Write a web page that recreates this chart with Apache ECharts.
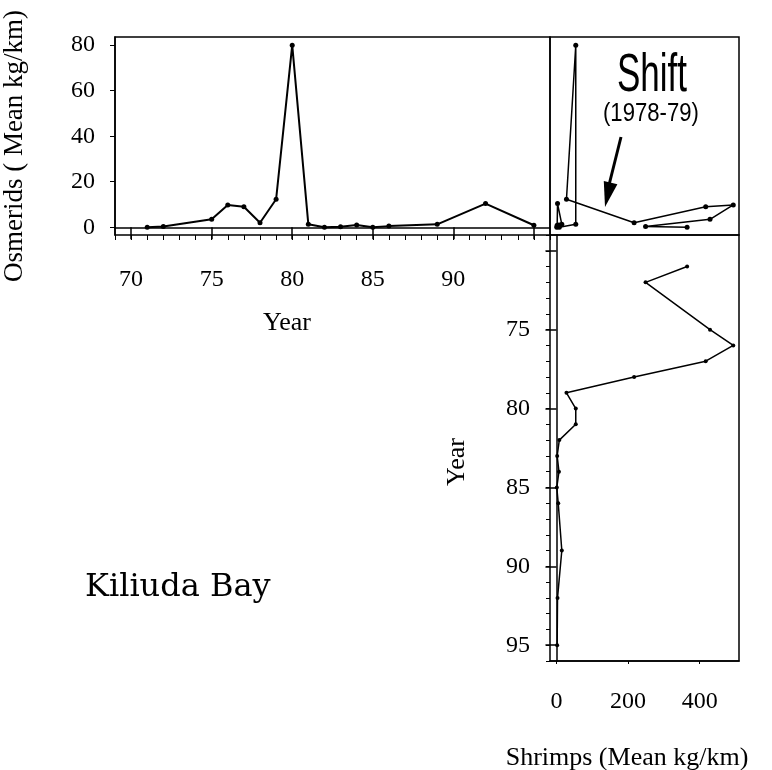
<!DOCTYPE html>
<html>
<head>
<meta charset="utf-8">
<script src="https://cdn.jsdelivr.net/npm/echarts@6/dist/echarts.min.js"></script>
<style>html,body{margin:0;padding:0;background:#fff}#c{width:772px;height:770px}</style>
</head>
<body>
<div id="c"></div>
<script>
// ---- data ----
const years    = [71, 72, 75, 76, 77, 78, 79, 80, 81, 82, 83, 84, 85, 86, 89, 92, 95];
const osmerids = [0, 0.3, 3.5, 9.8, 9, 2, 12.3, 80, 1.3, 0, 0.2, 1, 0, 0.5, 1.3, 10.4, 0.9];
const shrimps  = [365, 249, 429, 494, 417, 217, 28, 54, 54, 8, 2, 7, 1, 5, 15, 3, 2];

const yearLabelsTop   = [70, 75, 80, 85, 90];
const yearMajorTicks  = [70, 75, 80, 85, 90, 95];
const yearLabelsRight = [75, 80, 85, 90, 95];
const osmTicks        = [0, 20, 40, 60, 80];
const shrimpTicks     = [0, 200, 400];

const osmTitle    = 'Osmerids ( Mean kg/km)';
const shrimpTitle = 'Shrimps (Mean kg/km)';
const yearTitle   = 'Year';
const placeLabel  = 'Kiliuda Bay';
const shiftLabel  = 'Shift';
const shiftYears  = '(1978-79)';

// ---- build ----
const SERIF = 'Liberation Serif';
const K = '#000';
const yearsOsm    = years.map((y, i) => [y, osmerids[i]]);
const shrimpOsm   = years.map((y, i) => [shrimps[i], osmerids[i]]);
const shrimpYears = years.map((y, i) => [shrimps[i], y]);

const lbl = {fontFamily: SERIF, fontSize: 24, color: K};
const noSplit = {show: false};
const YEAR_MIN = 69, YEAR_MAX = 96;
const OSM_MIN = -3.4, OSM_MAX = 83.6;
const SH_MIN = -18, SH_MAX = 510;

const chart = echarts.init(document.getElementById('c'), null, {renderer: 'canvas'});
chart.setOption({
  backgroundColor: '#fff',
  animation: false,
  grid: [
    {left: 115, top: 37, width: 435, height: 198, show: true, borderColor: K, borderWidth: 1.5, containLabel: false},
    {left: 550, top: 37, width: 189, height: 198, show: true, borderColor: K, borderWidth: 1.5, containLabel: false},
    {left: 550, top: 235, width: 189, height: 426, show: true, borderColor: K, borderWidth: 1.5, containLabel: false}
  ],
  xAxis: [
    {type: 'value', gridIndex: 0, position: 'bottom', min: YEAR_MIN, max: YEAR_MAX,
      axisLine: {show: true, lineStyle: {color: K, width: 1.5}},
      axisTick: {show: true, customValues: yearMajorTicks, length: 12, lineStyle: {color: K, width: 1.5}},
      axisLabel: {show: true, customValues: yearLabelsTop, margin: 33, ...lbl},
      splitLine: noSplit},
    {type: 'value', gridIndex: 0, position: 'bottom', min: YEAR_MIN, max: YEAR_MAX, interval: 1,
      axisLine: {show: false}, axisTick: {show: true, length: 5, lineStyle: {color: K, width: 1}},
      axisLabel: {show: false}, splitLine: noSplit},
    {type: 'value', gridIndex: 1, min: SH_MIN, max: SH_MAX, position: 'bottom',
      axisLine: {show: false}, axisTick: {show: false}, axisLabel: {show: false}, splitLine: noSplit},
    {type: 'value', gridIndex: 2, min: SH_MIN, max: SH_MAX, position: 'bottom',
      axisLine: {show: true, lineStyle: {color: K, width: 1.5}},
      axisTick: {show: true, customValues: shrimpTicks, length: 3, lineStyle: {color: K}},
      axisLabel: {show: true, customValues: shrimpTicks, margin: 29, ...lbl},
      splitLine: noSplit}
  ],
  yAxis: [
    {type: 'value', gridIndex: 0, min: OSM_MIN, max: OSM_MAX, position: 'left',
      axisLine: {show: true, lineStyle: {color: K, width: 1.5}},
      axisTick: {show: true, customValues: osmTicks, length: 5, lineStyle: {color: K}},
      axisLabel: {show: true, customValues: osmTicks, margin: 20, ...lbl},
      splitLine: noSplit},
    {type: 'value', gridIndex: 1, min: OSM_MIN, max: OSM_MAX,
      axisLine: {show: false}, axisTick: {show: false}, axisLabel: {show: false}, splitLine: noSplit},
    {type: 'value', gridIndex: 2, min: YEAR_MIN, max: YEAR_MAX, inverse: true, position: 'left',
      axisLine: {show: true, lineStyle: {color: K, width: 1.5}},
      axisTick: {show: true, customValues: yearMajorTicks, length: 11, lineStyle: {color: K, width: 1.5}},
      axisLabel: {show: true, customValues: yearLabelsRight, margin: 20, ...lbl},
      splitLine: noSplit},
    {type: 'value', gridIndex: 2, min: YEAR_MIN, max: YEAR_MAX, interval: 1, inverse: true, position: 'left',
      axisLine: {show: false}, axisTick: {show: true, length: 4, lineStyle: {color: K, width: 1}},
      axisLabel: {show: false}, splitLine: noSplit}
  ],
  series: [
    {type: 'line', xAxisIndex: 0, yAxisIndex: 0, data: yearsOsm,
      symbol: 'circle', symbolSize: 5, itemStyle: {color: K}, lineStyle: {color: K, width: 2}},
    {type: 'line', xAxisIndex: 2, yAxisIndex: 1, data: shrimpOsm,
      symbol: 'circle', symbolSize: 5, itemStyle: {color: K}, lineStyle: {color: K, width: 1.5}},
    {type: 'line', xAxisIndex: 3, yAxisIndex: 2, data: shrimpYears,
      symbol: 'circle', symbolSize: 4, itemStyle: {color: K}, lineStyle: {color: K, width: 1.5}}
  ],
  graphic: [
    {type: 'text', x: 15, y: 146, rotation: Math.PI / 2,
      style: {text: osmTitle, font: '27px "Liberation Serif"', fill: K, textAlign: 'center', textVerticalAlign: 'middle'}},
    {type: 'text', x: 287, y: 323,
      style: {text: yearTitle, font: '26px "Liberation Serif"', fill: K, textAlign: 'center', textVerticalAlign: 'middle'}},
    {type: 'text', x: 457, y: 462, rotation: Math.PI / 2,
      style: {text: yearTitle, font: '26px "Liberation Serif"', fill: K, textAlign: 'center', textVerticalAlign: 'middle'}},
    {type: 'text', x: 627, y: 758,
      style: {text: shrimpTitle, font: '26px "Liberation Serif"', fill: K, textAlign: 'center', textVerticalAlign: 'middle'}},
    {type: 'text', x: 85, y: 588,
      style: {text: placeLabel, font: '32px "DejaVu Serif"', fill: K, textAlign: 'left', textVerticalAlign: 'middle'}},
    {type: 'text', x: 617, y: 76, scaleX: 0.66,
      style: {text: shiftLabel, font: '53px "Liberation Sans"', fill: K, textAlign: 'left', textVerticalAlign: 'middle'}},
    {type: 'text', x: 603, y: 114, scaleX: 0.85,
      style: {text: shiftYears, font: '26px "Liberation Sans"', fill: K, textAlign: 'left', textVerticalAlign: 'middle'}},
    {type: 'line', shape: {x1: 621, y1: 137, x2: 609, y2: 185}, style: {stroke: K, lineWidth: 3}},
    {type: 'polygon', shape: {points: [[605, 207], [617.4, 184.2], [603.8, 181]]}, style: {fill: K}}
  ]
});
</script>
</body>
</html>
